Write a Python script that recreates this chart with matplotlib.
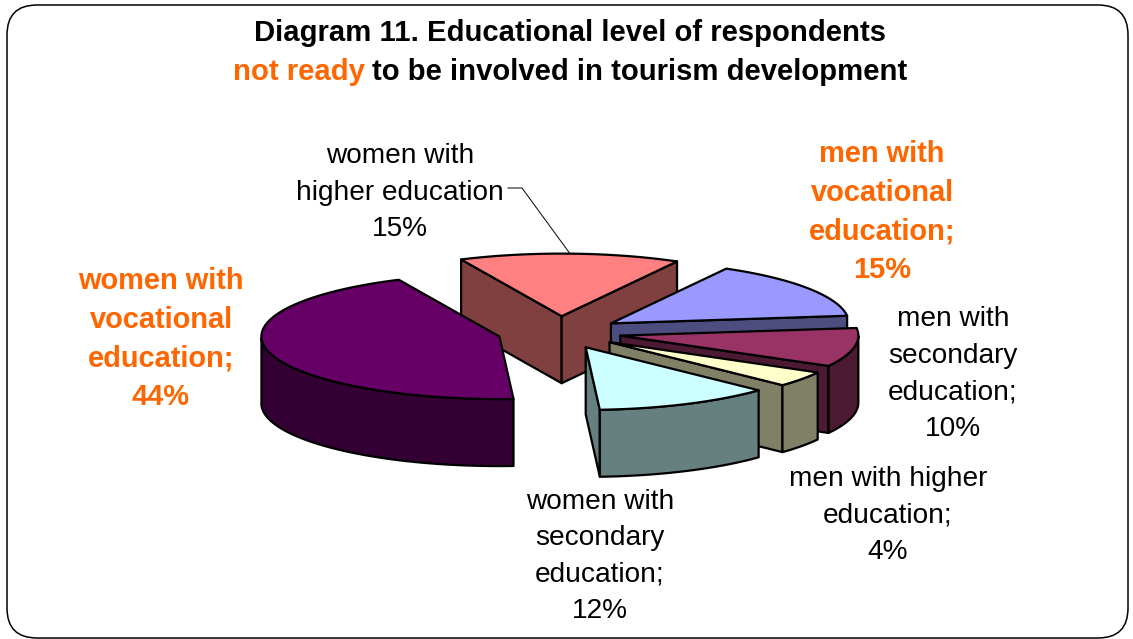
#!/usr/bin/env python3
"""Diagram 11: exploded 3D pie, drawn by hand because matplotlib has no 3D pie."""

import numpy as np
import matplotlib
matplotlib.use("Agg")
import matplotlib.pyplot as plt
from matplotlib.patches import FancyBboxPatch, Polygon

plt.rcParams["font.family"] = ["Liberation Sans", "DejaVu Sans"]

# ================================
# Data (clockwise from the top slice)
# ================================

categories = [
    "women with\nhigher education",
    "men with\nvocational\neducation;",
    "men with\nsecondary\neducation;",
    "men with higher\neducation;",
    "women with\nsecondary\neducation;",
    "women with\nvocational\neducation;",
]
shares = [15, 15, 10, 4, 12, 44]
top_colors = ["#FF8080", "#9999FF", "#993366", "#FFFFCC", "#CCFFFF", "#660066"]
side_colors = ["#804040", "#4D4D80", "#4D1A33", "#808066", "#668080", "#330033"]

# ================================
# Pie geometry (pixels)
# ================================

CX, CY = 559.5, 332.5
RADIUS = 238.0
SQUASH = 0.263
DEPTH = 67.0
EXPLODE = 62.0
START_ANGLE = 115.0

ORANGE = "#FF6600"
FONT = 20.2
BOLD_FONT = 20.9
TITLE_FONT = 21.1


def project(apex, t, r=RADIUS, drop=0.0):
    return (apex[0] + r * np.cos(t), apex[1] - SQUASH * r * np.sin(t) + drop)


fig = plt.figure(figsize=(11.33, 6.39), dpi=100)
ax = fig.add_axes([0, 0, 1, 1])
ax.set_xlim(0, 1133)
ax.set_ylim(639, 0)
ax.axis("off")

ax.add_patch(FancyBboxPatch((7, 5), 1121, 633, boxstyle="round,pad=0,rounding_size=30",
                            fc="white", ec="black", lw=1.1))

# -------- Pie --------
edges = START_ANGLE - np.cumsum([0] + shares) * 3.6
top_rim_mid = None

for i in range(len(shares)):
    t0, t1 = np.radians(edges[i]), np.radians(edges[i + 1])
    mid = (t0 + t1) / 2
    apex = project((CX, CY), mid, r=EXPLODE)
    if i == 0:
        top_rim_mid = project(apex, mid)
    ts = np.linspace(t0, t1, 80)
    rim = [project(apex, t) for t in ts]
    style = dict(ec="black", lw=1.6, joinstyle="round", zorder=2 + i)

    # cut faces, only where they turn to the viewer
    for t, visible in ((t0, np.cos(t0) < 0), (t1, np.cos(t1) > 0)):
        if visible:
            p = project(apex, t)
            face = [apex, p, (p[0], p[1] + DEPTH), (apex[0], apex[1] + DEPTH)]
            ax.add_patch(Polygon(face, fc=side_colors[i], **style))

    # outer wall, front half of the circle only
    front = ts[np.sin(ts) <= 0]
    if len(front) > 1:
        upper = [project(apex, t) for t in front]
        lower = [project(apex, t, drop=DEPTH) for t in front[::-1]]
        ax.add_patch(Polygon(upper + lower, fc=side_colors[i], **style))

    ax.add_patch(Polygon([apex] + rim, fc=top_colors[i], **style))

# -------- Frame texts --------
title_kw = dict(fontsize=TITLE_FONT, fontweight="bold", va="center", zorder=20)
ax.text(569.5, 33, "Diagram 11. Educational level of respondents", ha="center", color="black", **title_kw)
ax.text(233, 72, "not ready", ha="left", color=ORANGE, **title_kw)
ax.text(371.5, 72, "to be involved in tourism development", ha="left", color="black", **title_kw)

# -------- Labels --------
label_pos = [(400, 192.5), (882, 212), (953, 374), (888, 515.5), (600, 556.5), (161, 339)]
bold_labels = [False, True, False, False, False, True]

for name, share, pos, bold in zip(categories, shares, label_pos, bold_labels):
    ax.text(pos[0], pos[1], f"{name}\n{share}%", ha="center", va="center", multialignment="center",
            fontsize=BOLD_FONT if bold else FONT, linespacing=1.52 if not bold else 1.48,
            fontweight="bold" if bold else "normal",
            color=ORANGE if bold else "black", zorder=20)

# leader line of the top slice
ax.plot([508, 522, top_rim_mid[0]], [188, 188, top_rim_mid[1]], color="black", lw=0.7, zorder=1)

fig.savefig("out.png", dpi=100)
